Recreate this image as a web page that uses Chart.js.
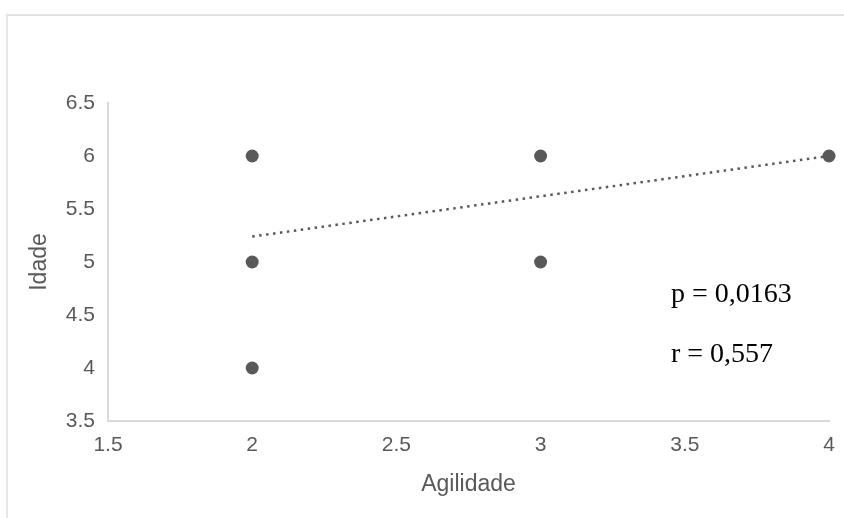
<!DOCTYPE html>
<html>
<head>
<meta charset="utf-8">
<script src="https://cdn.jsdelivr.net/npm/chart.js@4"></script>
<style>
  html, body { margin: 0; padding: 0; background: #ffffff; }
  #wrap { position: relative; width: 844px; height: 518px; overflow: hidden; }
  #frame { position: absolute; left: 6px; top: 14px; width: 900px; height: 600px;
           border-top: 2px solid #e2e2e2; border-left: 2px solid #e8e8e8; }
  #c { position: absolute; left: 0; top: 0; }
</style>
</head>
<body>
<div id="wrap">
  <div id="frame"></div>
  <canvas id="c" width="844" height="518"></canvas>
</div>
<script>
// Data
const agilidade = [2, 2, 2, 3, 3, 4];
const idade     = [6, 5, 4, 6, 5, 6];
const trendX    = [2, 4];
const trendY    = [5.24, 6.0];
const xTitle = 'Agilidade';
const yTitle = 'Idade';
const statsText = ['p = 0,0163', 'r = 0,557'];

const grey = '#595959';

const statsPlugin = {
  id: 'stats',
  afterDraw(chart) {
    const ctx = chart.ctx;
    ctx.save();
    ctx.fillStyle = '#000000';
    ctx.font = '28px "Liberation Serif", "Times New Roman", serif';
    ctx.textAlign = 'left';
    ctx.textBaseline = 'alphabetic';
    ctx.fillText(statsText[0], 671, 302);
    ctx.fillText(statsText[1], 671, 362);
    ctx.restore();
  }
};

new Chart(document.getElementById('c'), {
  type: 'scatter',
  data: {
    datasets: [
      {
        label: 'Idade',
        data: agilidade.map((x, i) => ({ x: x, y: idade[i] })),
        backgroundColor: grey,
        borderWidth: 0,
        pointRadius: 6.5,
        pointHoverRadius: 6.5,
        clip: false
      },
      {
        type: 'line',
        label: 'Tendência',
        data: trendX.map((x, i) => ({ x: x, y: trendY[i] })),
        borderColor: grey,
        borderWidth: 2.5,
        borderDash: [2.5, 4.5],
        pointRadius: 0,
        fill: false,
        clip: false
      }
    ]
  },
  plugins: [statsPlugin],
  options: {
    responsive: false,
    animation: false,
    events: [],
    layout: { padding: { left: 26, right: 15, top: 103, bottom: 20 } },
    plugins: { legend: { display: false }, tooltip: { enabled: false } },
    scales: {
      x: {
        type: 'linear',
        min: 1.5, max: 4,
        afterFit(s) { s.height = 77; s.paddingLeft = 0; s.paddingRight = 0; },
        grid: { display: false, drawTicks: false },
        border: { display: true, color: '#d9d9d9', width: 2 },
        ticks: {
          stepSize: 0.5, padding: 12, color: grey,
          font: { family: '"Liberation Sans", Arial, sans-serif', size: 21 },
          callback: v => String(v)
        },
        title: {
          display: true, text: xTitle, color: grey, padding: 0,
          font: { family: '"Liberation Sans", Arial, sans-serif', size: 23 }
        }
      },
      y: {
        type: 'linear',
        min: 3.5, max: 6.5,
        afterFit(s) { s.width = 82; s.paddingTop = 0; s.paddingBottom = 0; },
        grid: { display: false, drawTicks: false },
        border: { display: true, color: '#d9d9d9', width: 2 },
        ticks: {
          stepSize: 0.5, padding: 13, color: grey,
          font: { family: '"Liberation Sans", Arial, sans-serif', size: 21 },
          callback: v => String(v)
        },
        title: {
          display: true, text: yTitle, color: grey, padding: 0,
          font: { family: '"Liberation Sans", Arial, sans-serif', size: 23 }
        }
      }
    }
  }
});
</script>
</body>
</html>
